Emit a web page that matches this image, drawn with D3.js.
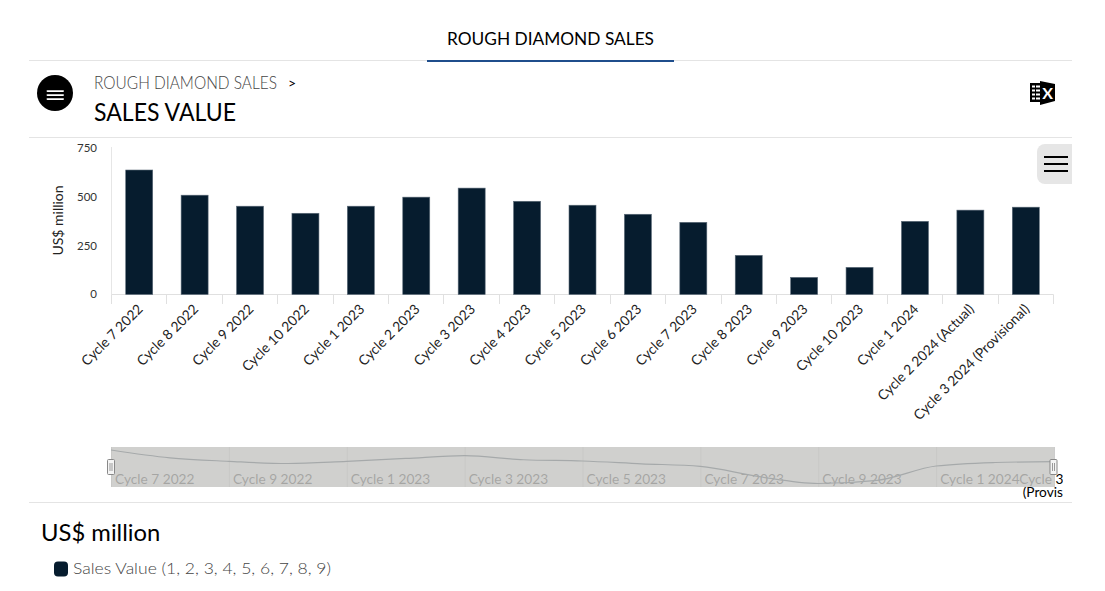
<!DOCTYPE html>
<html><head><meta charset="utf-8">
<script src="https://cdnjs.cloudflare.com/ajax/libs/d3/7.8.5/d3.min.js"></script>
<style>html,body{margin:0;padding:0;background:#fff;overflow:hidden}svg{display:block;font-family:Lato,"Open Sans",sans-serif}</style>
</head><body><svg id="c" width="1105" height="591"></svg>
<script>
const categories = ["Cycle 7 2022","Cycle 8 2022","Cycle 9 2022","Cycle 10 2022","Cycle 1 2023","Cycle 2 2023","Cycle 3 2023","Cycle 4 2023","Cycle 5 2023","Cycle 6 2023","Cycle 7 2023","Cycle 8 2023","Cycle 9 2023","Cycle 10 2023","Cycle 1 2024","Cycle 2 2024 (Actual)","Cycle 3 2024 (Provisional)"];
const salesValue = [633,505,449,413,449,495,541,474,454,408,367,199,87,138,372,429,444];
const yTicks = [0,250,500,750];
const legendLabel = "Sales Value (1, 2, 3, 4, 5, 6, 7, 8, 9)";
const unitLabel = "US$ million";

const svg = d3.select("#c");
const x = d3.scaleBand().domain(categories).range([111.5,1053.5]);
const y = d3.scaleLinear().domain([0,750]).range([294.5,147]);
const nx = d3.scalePoint().domain(categories).range([111,1054]);
const ny = d3.scaleLinear().domain([d3.min(salesValue),d3.max(salesValue)]).range([483.5,450]);

function txt(t,px,py,size,fill,anchor,weight,len){
  const s = svg.append("text").attr("x",px).attr("y",py).attr("font-size",size).attr("fill",fill)
    .attr("text-anchor",anchor||"start").attr("font-weight",weight||400).text(t);
  if(len) s.attr("textLength",len).attr("lengthAdjust","spacingAndGlyphs");
  return s;
}
function hr(yy){svg.append("rect").attr("x",29).attr("y",yy).attr("width",1043).attr("height",1).attr("fill","#e4e4e4");}

// header
txt("ROUGH DIAMOND SALES",550.5,45,18,"#000","middle",400,207);
hr(60); hr(137); hr(502);
svg.append("rect").attr("x",427).attr("y",60).attr("width",247).attr("height",2).attr("fill","#1f4e8c");
svg.append("circle").attr("cx",55).attr("cy",93).attr("r",18).attr("fill","#000");
[90.3,94.3,98.3].forEach(v=>svg.append("rect").attr("x",46.5).attr("y",v).attr("width",17.5).attr("height",1.6).attr("rx",0.8).attr("fill","#fff"));
txt("ROUGH DIAMOND SALES",94,89,17.5,"#444","start",300,183);
txt(">",288,88,14,"#000");
txt("SALES VALUE",94,121,25,"#000","start",400,142);

// excel icon
const xl = svg.append("g");
xl.append("rect").attr("x",1030).attr("y",83).attr("width",11).attr("height",19).attr("fill","#000");
[85.5,89.5,93.5,97.5].forEach(v=>xl.append("rect").attr("x",1032).attr("y",v).attr("width",8).attr("height",2).attr("fill","#fff"));
xl.append("rect").attr("x",1035).attr("y",84).attr("width",1).attr("height",17).attr("fill","#000");
xl.append("path").attr("d","M1040 81L1055 84V101L1040 105Z").attr("fill","#000");
xl.append("text").attr("x",1047.5).attr("y",99).attr("font-size",16).attr("font-weight",700).attr("fill","#fff").attr("text-anchor","middle").text("X");

// y axis
svg.append("line").attr("x1",111.5).attr("x2",111.5).attr("y1",147).attr("y2",294.5).attr("stroke","#e6e6e6");
svg.append("g").selectAll("text").data(yTicks).join("text")
  .attr("x",97).attr("y",d=>y(d)+(d===0?3.5:4.5)).attr("text-anchor","end").attr("font-size",11.5).attr("fill","#333").text(d=>d);
svg.append("text").attr("transform","translate(63,220.5) rotate(-90)").attr("text-anchor","middle").attr("font-size",14).attr("fill","#222").text(unitLabel);

// x axis
svg.append("line").attr("x1",111.5).attr("x2",1053.5).attr("y1",294.5).attr("y2",294.5).attr("stroke","#e0e0e0");
svg.append("g").selectAll("line").data(categories.concat(["end"])).join("line")
  .attr("x1",(d,i)=>Math.round(111+i*x.step())+0.5).attr("x2",(d,i)=>Math.round(111+i*x.step())+0.5)
  .attr("y1",294.5).attr("y2",304).attr("stroke","#e0e0e0");

// bars
const bw = 27;
svg.append("g").selectAll("rect").data(salesValue).join("rect")
  .attr("x",(d,i)=>x(categories[i])+x.bandwidth()/2-bw/2)
  .attr("y",d=>y(d)).attr("width",bw).attr("height",d=>y(0)-y(d))
  .attr("fill","#061c2e").attr("stroke","#5c6b78").attr("stroke-width",0.6);

// x labels
svg.append("g").selectAll("text").data(categories).join("text")
  .attr("transform",d=>`translate(${x(d)+x.bandwidth()/2+4.5},310) rotate(-45)`)
  .attr("text-anchor","end").attr("font-size",13.8).attr("fill","#222").text(d=>d);

// navigator
svg.append("defs").append("clipPath").attr("id","navclip").append("rect").attr("x",100).attr("y",440).attr("width",963).attr("height",62);
const nav = svg.append("g").attr("clip-path","url(#navclip)");
const navCats = categories.filter((d,i)=>i%2===0);
nav.selectAll("line.g").data(navCats).join("line").attr("class","g")
  .attr("x1",d=>nx(d)+0.5).attr("x2",d=>nx(d)+0.5).attr("y1",447).attr("y2",487).attr("stroke","#ccc");
nav.selectAll("text.l").data(navCats.slice(0,-1)).join("text").attr("class","l")
  .attr("x",d=>nx(d)+4).attr("y",484).attr("font-size",13.7).attr("fill","#000").text(d=>d);
const lastLabel = nav.append("text").attr("font-size",13.7).attr("fill","#000").attr("text-anchor","middle");
const lastCat = categories[categories.length-1];
lastLabel.append("tspan").attr("x",nx(lastCat)+5).attr("y",484).text(lastCat.split(" (")[0]);
lastLabel.append("tspan").attr("x",nx(lastCat)+5).attr("y",497).text("("+lastCat.split(" (")[1]);
nav.append("path").datum(salesValue)
  .attr("d",d3.line().x((d,i)=>nx(categories[i])).y(d=>ny(d)).curve(d3.curveMonotoneX))
  .attr("fill","none").attr("stroke","#061c2e").attr("stroke-width",1.2);
svg.append("rect").attr("x",111).attr("y",447).attr("width",943).attr("height",40).attr("fill","rgb(199,199,196)").attr("fill-opacity",0.83);
[111,1053.5].forEach(hx=>{
  svg.append("rect").attr("x",hx-3.5).attr("y",459.5).attr("width",7).attr("height",15).attr("rx",1).attr("fill","#f4f4f4").attr("stroke","#888");
  [-1,1].forEach(o=>svg.append("line").attr("x1",hx+o).attr("x2",hx+o).attr("y1",463).attr("y2",471).attr("stroke","#999"));
});

// legend
txt(unitLabel,41,541,23.8,"#000");
svg.append("rect").attr("x",54).attr("y",561.5).attr("width",14).attr("height",15).attr("rx",4).attr("fill","#061c2e");
txt(legendLabel,73,574,16.5,"#444","start",300,258);

// side button
svg.append("path").attr("d","M1072 144H1045a8 8 0 0 0 -8 8V176a8 8 0 0 0 8 8H1072Z").attr("fill","#e6e6e6");
[156,163,170].forEach(v=>svg.append("rect").attr("x",1044).attr("y",v).attr("width",24).attr("height",2).attr("fill","#000"));
</script></body></html>
